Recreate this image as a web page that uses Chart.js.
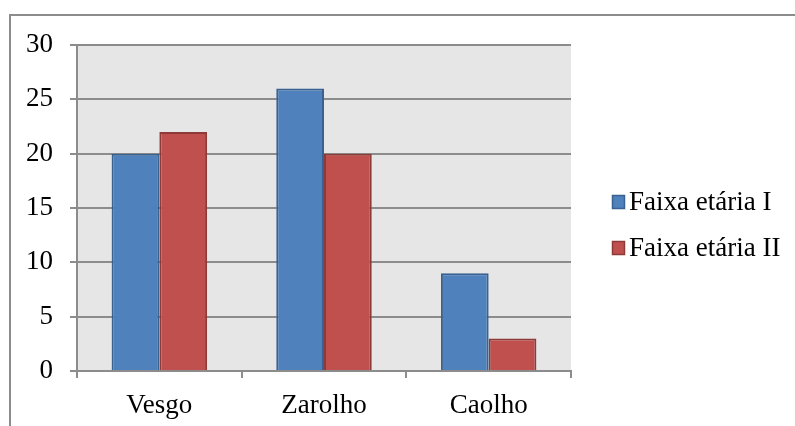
<!DOCTYPE html>
<html>
<head>
<meta charset="utf-8">
<script src="https://cdn.jsdelivr.net/npm/chart.js@4/dist/chart.umd.min.js"></script>
<style>
  html, body { margin: 0; padding: 0; background: #fff; }
  #wrap { width: 795px; height: 426px; }
</style>
</head>
<body>
<div id="wrap"><canvas id="chart" width="795" height="426"></canvas></div>
<script>
const categories = ['Vesgo', 'Zarolho', 'Caolho'];
const faixaI = [20, 26, 9];
const faixaII = [22, 20, 3];
const seriesNames = ['Faixa etária I', 'Faixa etária II'];
const yTicks = [0, 5, 10, 15, 20, 25, 30];

const FONT = '"Liberation Serif", "Times New Roman", serif';
const GRID = '#8c8c8c';

// grey plot area and the frame around the whole chart
const backdrop = {
  id: 'backdrop',
  beforeDraw(chart) {
    const { ctx, chartArea: a } = chart;
    ctx.save();
    ctx.fillStyle = '#e6e6e6';
    ctx.fillRect(a.left, a.top, a.right - a.left, a.bottom - a.top);
    ctx.strokeStyle = GRID;
    ctx.lineWidth = 2;
    ctx.strokeRect(10, 15, chart.width + 20, chart.height + 20);
    ctx.restore();
  }
};

// legend on the right: small squares with the series names
const sideLegend = {
  id: 'sideLegend',
  afterDraw(chart) {
    const { ctx } = chart;
    ctx.save();
    ctx.font = '27px ' + FONT;
    ctx.textBaseline = 'middle';
    chart.data.datasets.forEach((ds, i) => {
      const cy = 202 + i * 46;
      ctx.fillStyle = ds.backgroundColor;
      ctx.fillRect(612, cy - 7, 13, 14);
      ctx.strokeStyle = ds.borderColor;
      ctx.lineWidth = 1.5;
      ctx.strokeRect(612.5, cy - 6.5, 12, 13);
      ctx.fillStyle = '#000';
      ctx.fillText(ds.label, 629, cy + 1);
    });
    ctx.restore();
  }
};

new Chart(document.getElementById('chart'), {
  type: 'bar',
  data: {
    labels: categories,
    datasets: [
      { label: seriesNames[0], data: faixaI, backgroundColor: '#4f81bd', borderColor: '#3a6290', borderWidth: 2 },
      { label: seriesNames[1], data: faixaII, backgroundColor: '#c0504d', borderColor: '#8e3b38', borderWidth: 2 }
    ]
  },
  options: {
    responsive: false,
    animation: false,
    devicePixelRatio: 1,
    categoryPercentage: 0.58,
    barPercentage: 1.0,
    layout: { padding: { left: 0, top: 45, right: 224, bottom: 0 } },
    plugins: {
      legend: { display: false },
      tooltip: { enabled: false }
    },
    scales: {
      x: {
        offset: true,
        grid: { offset: true, drawOnChartArea: false, drawTicks: true, tickLength: 7, color: GRID, lineWidth: 2 },
        border: { color: GRID, width: 2 },
        ticks: { color: '#000', font: { family: FONT, size: 27 }, padding: 12, maxRotation: 0 },
        afterFit(scale) { scale.height = 55; }
      },
      y: {
        min: 0,
        max: 30,
        afterBuildTicks(scale) { scale.ticks = yTicks.map(v => ({ value: v })); },
        grid: { color: GRID, lineWidth: 2, tickLength: 7 },
        border: { color: GRID, width: 2 },
        ticks: { color: '#000', font: { family: FONT, size: 27 }, padding: 17 },
        afterFit(scale) { scale.width = 77; }
      }
    }
  },
  plugins: [backdrop, sideLegend]
});
</script>
</body>
</html>
